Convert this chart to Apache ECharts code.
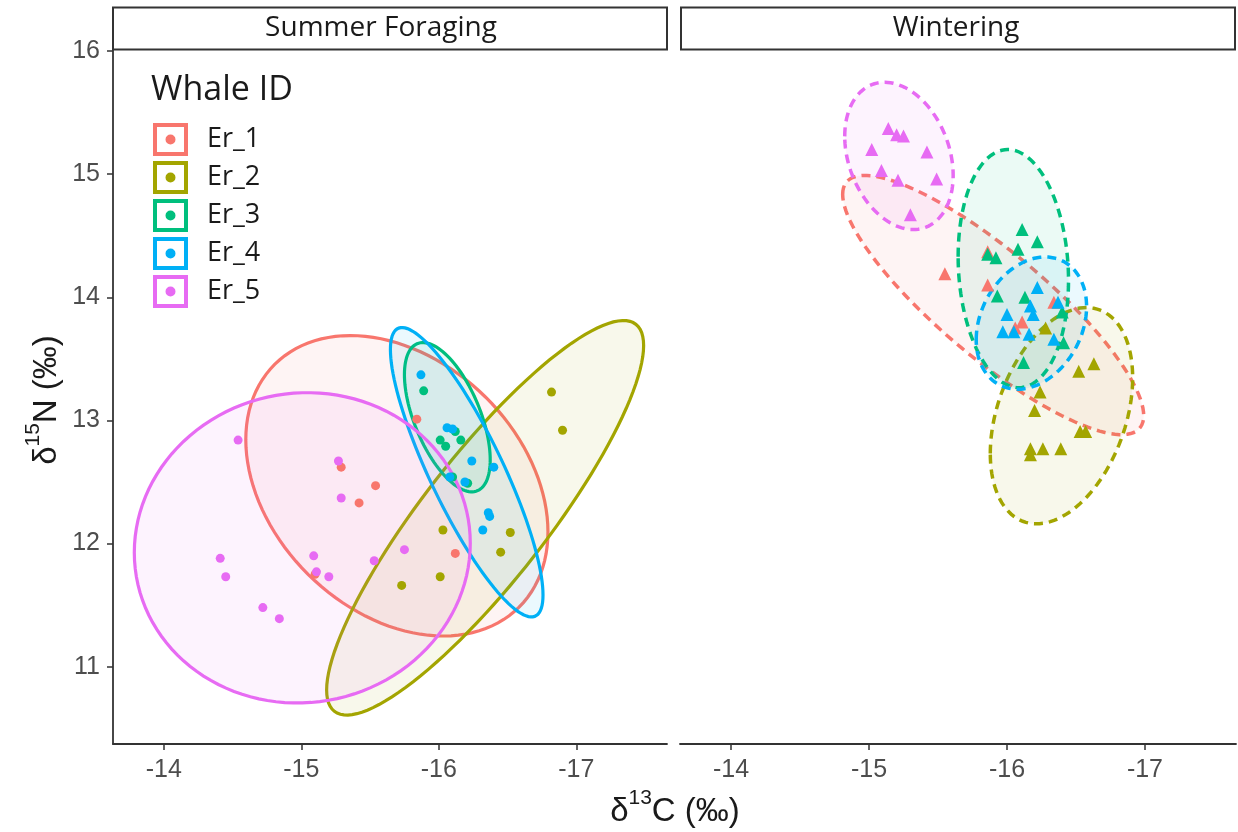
<!DOCTYPE html>
<html>
<head>
<meta charset="utf-8">
<script src="https://cdn.jsdelivr.net/npm/echarts@6/dist/echarts.min.js"></script>
<style>
  html, body { margin: 0; background: #fff; }
  #main { width: 1238px; height: 832px; }
</style>
</head>
<body>
<div id="main"></div>
<script>
var ids = ['Er_1', 'Er_2', 'Er_3', 'Er_4', 'Er_5'];
var colors = ['#F8766D', '#A3A500', '#00BF7D', '#00B0F6', '#E76BF3'];
var seasons = ['Summer Foraging', 'Wintering'];
var xTicks = [-17, -16, -15, -14];
var yTicks = [11, 12, 13, 14, 15, 16];

// summer foraging samples [d13C, d15N]
var sumEr1 = [[-15.29, 12.62], [-15.54, 12.47], [-15.42, 12.33], [-16.12, 11.92], [-15.84, 13.01], [-15.10, 11.75]];
var sumEr2 = [[-16.82, 13.23], [-16.90, 12.92], [-16.03, 12.11], [-16.52, 12.09], [-16.45, 11.93], [-16.01, 11.73], [-15.73, 11.66]];
var sumEr3 = [[-15.89, 13.24], [-16.01, 12.84], [-16.05, 12.79], [-16.12, 12.91], [-16.16, 12.84], [-16.10, 12.54], [-16.21, 12.49]];
var sumEr4 = [[-15.87, 13.37], [-16.06, 12.94], [-16.10, 12.93], [-16.24, 12.67], [-16.40, 12.62], [-16.08, 12.54], [-16.19, 12.50], [-16.36, 12.25], [-16.37, 12.22], [-16.32, 12.11]];
var sumEr5 = [[-14.54, 12.84], [-15.27, 12.67], [-15.29, 12.37], [-14.41, 11.88], [-14.45, 11.73], [-14.72, 11.48], [-14.84, 11.39], [-15.09, 11.90], [-15.11, 11.77], [-15.20, 11.73], [-15.75, 11.95], [-15.53, 11.86]];

// wintering samples
var winEr1 = [[-15.55, 14.19], [-15.86, 14.10], [-16.06, 13.75], [-16.34, 13.96], [-15.86, 14.37], [-16.11, 13.80]];
var winEr2 = [[-16.52, 13.40], [-16.63, 13.46], [-16.24, 13.23], [-16.20, 13.08], [-16.57, 12.91], [-16.53, 12.91], [-16.17, 12.77], [-16.26, 12.77], [-16.39, 12.77], [-16.28, 13.75], [-16.17, 12.72]];
var winEr3 = [[-16.11, 14.55], [-16.08, 14.39], [-16.22, 14.45], [-15.86, 14.35], [-15.92, 14.32], [-15.93, 14.01], [-16.13, 14.00], [-16.40, 13.88], [-16.12, 13.47], [-16.41, 13.63]];
var winEr4 = [[-16.22, 14.08], [-16.17, 13.93], [-16.19, 13.86], [-16.00, 13.86], [-15.97, 13.72], [-16.05, 13.72], [-16.16, 13.70], [-16.34, 13.66], [-16.37, 13.96]];
var winEr5 = [[-15.14, 15.37], [-15.20, 15.32], [-15.25, 15.31], [-15.02, 15.20], [-15.42, 15.18], [-15.09, 15.03], [-15.21, 14.95], [-15.49, 14.96], [-15.30, 14.67]];

// ellipse: centre, half x range, half y range, cos of phase
var sumCx = [-15.695, -16.337, -16.062, -16.203, -15.007];
var sumCy = [12.469, 12.209, 13.026, 12.579, 11.965];
var sumAx = [1.099, 1.153, 0.312, 0.555, 1.222];
var sumBy = [1.220, 1.602, 0.606, 1.175, 1.260];
var sumCos = [0.307, -0.873, 0.57, 0.848, -0.03];

var winCx = [-15.900, -16.395, -16.046, -16.177, -15.217];
var winCy = [13.937, 13.038, 14.233, 13.790, 15.148];
var winAx = [1.091, 0.516, 0.40, 0.40, 0.393];
var winBy = [1.053, 0.878, 0.967, 0.537, 0.598];
var winCos = [0.853, -0.35, 0.1, -0.25, 0.265];

var points = [[sumEr1, sumEr2, sumEr3, sumEr4, sumEr5], [winEr1, winEr2, winEr3, winEr4, winEr5]];
var ell = [[sumCx, sumCy, sumAx, sumBy, sumCos], [winCx, winCy, winAx, winBy, winCos]];

var font = 'Liberation Sans, Arial, sans-serif';
var font2 = 'Open Sans, Liberation Sans, sans-serif';
var chart = echarts.init(document.getElementById('main'));

function outline(cx, cy, ax, by, c) {
    var s = Math.sqrt(1 - c * c), pts = [];
    for (var i = 0; i <= 120; i++) {
        var t = i / 120 * 2 * Math.PI;
        pts.push([cx + ax * Math.cos(t), cy + by * (Math.cos(t) * c + Math.sin(t) * s)]);
    }
    return pts;
}

function fade(hex, a) {
    var n = parseInt(hex.slice(1), 16);
    return 'rgba(' + (n >> 16) + ',' + ((n >> 8) & 255) + ',' + (n & 255) + ',' + a + ')';
}

var series = [];
for (var g = 0; g < 2; g++) {
    for (var i = 0; i < ids.length; i++) {
        var e = ell[g];
        var pts = outline(e[0][i], e[1][i], e[2][i], e[3][i], e[4][i]);
        series.push({
            type: 'custom',
            name: ids[i],
            xAxisIndex: g,
            yAxisIndex: g,
            silent: true,
            z: 1,
            itemStyle: { color: colors[i] },
            data: pts,
            renderItem: (function (pts, col, dashed) {
                return function (params, api) {
                    if (params.dataIndex !== 0) return;
                    return {
                        type: 'polygon',
                        shape: { points: pts.map(function (p) { return api.coord(p); }) },
                        style: {
                            fill: fade(col, 0.08),
                            stroke: col,
                            lineWidth: dashed ? 3.5 : 3.2,
                            lineDash: dashed ? [9, 6] : null
                        }
                    };
                };
            })(pts, colors[i], g === 1)
        });
    }
}
for (var g2 = 0; g2 < 2; g2++) {
    for (var j = 0; j < ids.length; j++) {
        series.push({
            type: 'scatter',
            name: ids[j],
            xAxisIndex: g2,
            yAxisIndex: g2,
            z: 3,
            symbol: g2 ? 'triangle' : 'circle',
            symbolSize: g2 ? 13 : 9,
            itemStyle: { color: colors[j], opacity: 1 },
            data: points[g2][j]
        });
    }
}
// put summer scatter first so the legend picks it up
series = series.slice(10, 15).concat(series.slice(0, 10), series.slice(15));

function xAxis(idx) {
    return {
        type: 'value', gridIndex: idx, inverse: true, min: -17.66, max: -13.63,
        axisLine: { lineStyle: { color: '#333', width: 1.8 } },
        axisTick: { customValues: xTicks, length: 6, lineStyle: { color: '#333', width: 1.5 } },
        axisLabel: { customValues: xTicks, margin: 14, fontSize: 25, color: '#4d4d4d', fontFamily: font },
        splitLine: { show: false }
    };
}

var titleRich = {
    d: { fontSize: 33, fontFamily: font, fill: '#1a1a1a', lineHeight: 40, verticalAlign: 'bottom' },
    s: { fontSize: 21, fontFamily: font, fill: '#1a1a1a', lineHeight: 22, verticalAlign: 'top' }
};

var option = {
    animation: false,
    grid: [
        { left: 113, top: 50, width: 554, height: 694 },
        { left: 680, top: 50, width: 556, height: 694 }
    ],
    xAxis: [xAxis(0), xAxis(1)],
    yAxis: [{
        type: 'value', gridIndex: 0, min: 10.372, max: 16.008,
        axisLine: { show: true, lineStyle: { color: '#333', width: 1.8 } },
        axisTick: { show: true, customValues: yTicks, length: 6, lineStyle: { color: '#333', width: 1.5 } },
        axisLabel: { customValues: yTicks, margin: 13, fontSize: 25, color: '#4d4d4d', fontFamily: font },
        splitLine: { show: false }
    }, {
        type: 'value', gridIndex: 1, min: 10.372, max: 16.008, show: false,
        splitLine: { show: false }
    }],
    legend: {
        data: ids,
        orient: 'vertical',
        left: 153,
        top: 123,
        padding: 0,
        itemWidth: 35,
        itemHeight: 33,
        itemGap: 5,
        icon: 'path://M0 0H35V33H0Z M4 4V29H31V4Z M12.5 16.5a5 5 0 1 0 10 0a5 5 0 1 0 -10 0Z',
        textStyle: { fontSize: 27, color: '#1a1a1a', fontFamily: font2, padding: [0, 0, 0, 14] },
        selectedMode: false
    },
    graphic: [
        { type: 'rect', shape: { x: 113, y: 7.5, width: 554, height: 42 }, style: { fill: '#fff', stroke: '#333', lineWidth: 2 } },
        { type: 'rect', shape: { x: 681, y: 7.5, width: 554, height: 42 }, style: { fill: '#fff', stroke: '#333', lineWidth: 2 } },
        { type: 'text', x: 381, y: 28, style: { text: seasons[0], fontSize: 28, fill: '#1a1a1a', fontFamily: font2, textAlign: 'center', textVerticalAlign: 'middle' } },
        { type: 'text', x: 956, y: 28, style: { text: seasons[1], fontSize: 28, fill: '#1a1a1a', fontFamily: font2, textAlign: 'center', textVerticalAlign: 'middle' } },
        { type: 'text', x: 151, y: 90, style: { text: 'Whale ID', fontSize: 34, fill: '#1a1a1a', fontFamily: font2, textAlign: 'left', textVerticalAlign: 'middle' } },
        {
            type: 'text', x: 675, y: 808,
            style: { text: '{d|δ}{s|13}{d|C (‰)}', textAlign: 'center', textVerticalAlign: 'middle', rich: titleRich }
        },
        {
            type: 'text', x: 43, y: 400, rotation: Math.PI / 2,
            style: { text: '{d|δ}{s|15}{d|N (‰)}', textAlign: 'center', textVerticalAlign: 'middle', rich: titleRich }
        }
    ],
    series: series
};

chart.setOption(option);
</script>
</body>
</html>
